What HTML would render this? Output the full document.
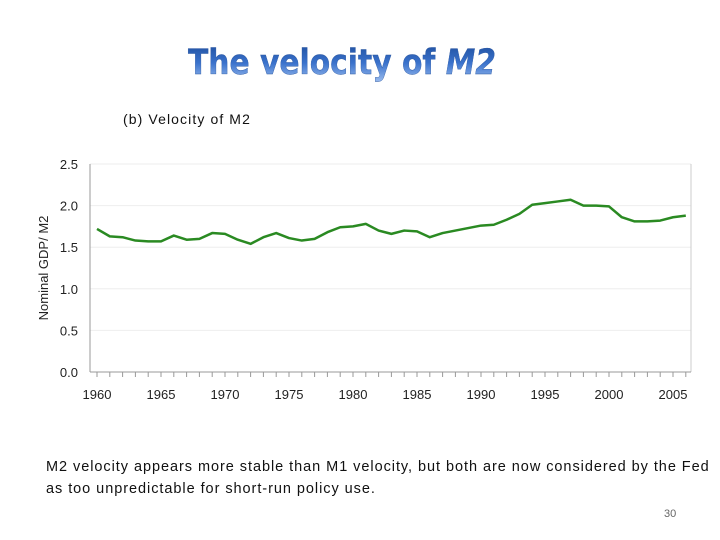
<!DOCTYPE html>
<html><head><meta charset="utf-8"><style>
body{margin:0;width:720px;height:540px;background:#fff;overflow:hidden;font-family:"Liberation Sans",sans-serif;position:relative}
.t{position:absolute;white-space:nowrap}
</style></head><body>
<svg width="720" height="90" style="position:absolute;left:0;top:0">
<defs><linearGradient id="g" x1="0" y1="0" x2="0" y2="1"><stop offset="0" stop-color="#1f4f9e"/><stop offset="0.5" stop-color="#3a72cc"/><stop offset="1" stop-color="#9fc0f0"/></linearGradient></defs>
<text x="188" y="74" font-family="DejaVu Sans" font-weight="bold" font-size="35" fill="url(#g)" stroke="#2a56a0" stroke-width="0.4" textLength="308" lengthAdjust="spacingAndGlyphs">The velocity of <tspan font-style="italic">M2</tspan></text>
</svg>
<div class="t" style="left:123px;top:111px;font-size:14px;letter-spacing:1.1px;color:#111">(b) Velocity of M2</div>
<svg id="c" width="720" height="420" style="position:absolute;left:0;top:0"></svg>
<div class="t" style="left:46px;top:456px;font-size:14.5px;letter-spacing:0.95px;line-height:22px;color:#111">M2 velocity appears more stable than M1 velocity, but both are now considered by the Fed<br>as too unpredictable for short-run policy use.</div>
<div class="t" style="left:664px;top:508px;font-size:11px;color:#666">30</div>
<script>
const years=[];for(let y=1960;y<=2006;y++)years.push(y);
const values=[1.72,1.63,1.62,1.58,1.57,1.57,1.64,1.59,1.60,1.67,1.66,1.59,1.54,1.62,1.67,1.61,1.58,1.60,1.68,1.74,1.75,1.78,1.70,1.66,1.70,1.69,1.62,1.67,1.70,1.73,1.76,1.77,1.83,1.90,2.01,2.03,2.05,2.07,2.00,2.00,1.99,1.86,1.81,1.81,1.82,1.86,1.88];
const yTicks=[0,0.5,1.0,1.5,2.0,2.5];
const yTickLabels=["0.0","0.5","1.0","1.5","2.0","2.5"];
const xTickLabels=[1960,1965,1970,1975,1980,1985,1990,1995,2000,2005];
const NS="http://www.w3.org/2000/svg",svg=document.getElementById('c');
const L=90,R=691,T=164,B=372;
const xs=y=>97+(y-1960)*12.8, ys=v=>B-(v/2.5)*(B-T);
function el(t,a,n,i){const e=document.createElementNS(NS,t);for(const k in a)e.setAttribute(k,a[k]);


svg.appendChild(e);return e;}
yTicks.forEach((v,i)=>{if(v>0)el('line',{x1:L,x2:R,y1:ys(v),y2:ys(v),stroke:'#eee'},'gridline');
const t=el('text',{x:L-12,y:ys(v)+5,'text-anchor':'end','font-size':13,fill:'#222'},'y-tick-label');t.textContent=yTickLabels[i];});
el('line',{x1:L,x2:L,y1:T,y2:B,stroke:'#999'},'y-axis');
el('line',{x1:R,x2:R,y1:T,y2:B,stroke:'#ccc'},'plot-border');
el('line',{x1:L,x2:R,y1:B,y2:B,stroke:'#999'},'x-axis');
years.forEach(y=>el('line',{x1:xs(y),x2:xs(y),y1:B,y2:B+5,stroke:'#999'},'x-tick'));
xTickLabels.forEach(y=>{const t=el('text',{x:xs(y),y:B+27,'text-anchor':'middle','font-size':13,fill:'#222'},'x-tick-label');t.textContent=y;});
const yt=el('text',{x:0,y:0,'text-anchor':'middle','font-size':13,fill:'#222',transform:`translate(48,${(T+B)/2}) rotate(-90)`},'y-axis-title');yt.textContent='Nominal GDP/ M2';
el('polyline',{points:years.map((y,i)=>xs(y)+','+ys(values[i])).join(' '),fill:'none',stroke:'#2a8a22','stroke-width':2.5,'stroke-linejoin':'round'},'velocity-line');
</script>
</body></html>
